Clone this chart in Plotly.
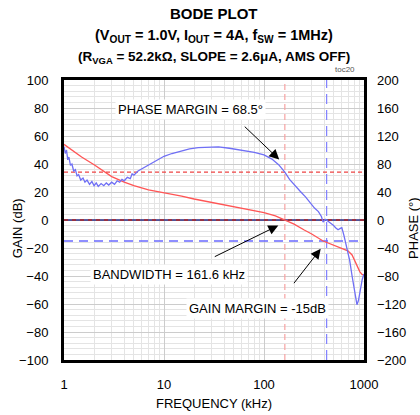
import numpy as np
import plotly.graph_objects as go

# Loop gain (dB) vs frequency (kHz)
gain_freq = [1, 1.2, 1.5, 2, 2.5, 3, 4, 5, 7, 10, 15, 20, 30, 45, 70, 100, 130,
             161.6, 200, 250, 300, 390, 480, 575, 690, 760, 820, 910, 960, 1000]
gain_db = [54, 50, 45, 39.5, 34.5, 31, 27, 24.5, 21.5, 19.5, 17, 15, 12.5, 10.2, 7.2, 5.2, 3,
           0, -3, -7, -10, -15, -17.5, -19.5, -22, -25, -30, -37, -39, -39]

# Loop phase (deg) vs frequency (kHz)
phase_freq = [1.0, 1.03, 1.06, 1.09, 1.12, 1.16, 1.2, 1.25, 1.3, 1.35, 1.4, 1.47, 1.55, 1.62,
              1.7, 1.8, 1.9, 2.0, 2.1, 2.2, 2.35, 2.5, 2.65, 2.8, 3.0, 3.2, 3.4, 3.6, 3.8,
              4.0, 4.3, 4.6, 4.8, 5.0, 5.5, 6.0, 7, 8, 9, 10, 12, 15, 18, 22, 28, 35, 45,
              60, 80, 100, 120, 140, 161.6, 180, 200, 230, 260, 290, 320, 350, 375, 390,
              400, 410, 430, 460, 490, 520, 550, 580, 600, 630, 670, 720, 760, 800, 850,
              880, 920, 960, 1000]
phase_deg = [105, 95, 100, 86, 90, 78, 80, 70, 72, 63, 65, 57, 60, 54,
             57, 51, 55, 49, 53, 48, 52, 49, 53, 50, 54, 51, 56, 54, 58,
             56, 61, 59, 66, 64, 70, 73, 79, 84, 88, 91, 95, 99, 101.5, 103.5, 104.5, 104.5, 102.5,
             100, 96.5, 93, 87, 79, 68.5, 58, 50, 41, 33, 24, 17, 12, 5, -3,
             -1, 1, -1, -4, -7, -11, -14, -12, -11, -22, -40, -58, -80, -100, -121,
             -115, -98, -85, -77]

# Stability markers
bandwidth_khz = 161.6
phase_margin_deg = 68.5
gain_margin_db = -15
phase_cross_khz = 423

x_ticks = [1, 10, 100, 1000]
gain_ticks = list(range(-100, 101, 20))
phase_ticks = list(range(-200, 201, 40))

RED = "#ff5555"
BLUE = "#6f6ff5"
f_lo, f_hi = 1, 1000

fig = go.Figure()

# marker lines
fig.add_trace(go.Scatter(x=[bandwidth_khz, bandwidth_khz], y=[-100, 100], mode="lines",
                         line=dict(color="#f6a2a2", width=1.2, dash="6px,4px"), hoverinfo="skip"))
fig.add_trace(go.Scatter(x=[phase_cross_khz, phase_cross_khz], y=[-100, 100], mode="lines",
                         line=dict(color="#8080ff", width=1.2, dash="10px,6px"), hoverinfo="skip"))
fig.add_trace(go.Scatter(x=[f_lo, f_hi], y=[gain_margin_db, gain_margin_db], mode="lines",
                         line=dict(color="#6a6aff", width=1.3, dash="9px,6px"), hoverinfo="skip"))
fig.add_trace(go.Scatter(x=[f_lo, f_hi], y=[phase_margin_deg, phase_margin_deg], mode="lines",
                         yaxis="y2", line=dict(color="#ee4444", width=1.2, dash="4px,3px"),
                         hoverinfo="skip"))
# zero line (gain 0 dB / phase 0 deg)
fig.add_trace(go.Scatter(x=[f_lo, f_hi], y=[0, 0], mode="lines",
                         line=dict(color="#2a2a80", width=1.3), hoverinfo="skip"))
fig.add_trace(go.Scatter(x=[f_lo, f_hi], y=[0, 0], mode="lines",
                         line=dict(color="#b02828", width=1.3, dash="4px,4px"), hoverinfo="skip"))

# curves
fig.add_trace(go.Scatter(x=phase_freq, y=phase_deg, mode="lines", yaxis="y2",
                         line=dict(color=BLUE, width=1.3), name="Phase"))
fig.add_trace(go.Scatter(x=gain_freq, y=gain_db, mode="lines",
                         line=dict(color=RED, width=1.3), name="Gain"))

lg = np.log10

def label(text, f, y):
    return dict(x=lg(f), y=y, xref="x", yref="y", text=text, showarrow=False,
                xanchor="center", yanchor="middle",
                bgcolor="white", borderpad=2, font=dict(size=13))

def arrow(f_head, y_head, f_tail, y_tail):
    return dict(x=lg(f_head), y=y_head, ax=lg(f_tail), ay=y_tail, xref="x", yref="y",
                axref="x", ayref="y", text="", showarrow=True, arrowhead=2,
                arrowsize=2, arrowwidth=1, arrowcolor="black")

def paper_text(text, x, y, size=13, angle=0, color="black"):
    return dict(x=x, y=y, xref="paper", yref="paper", showarrow=False, text=text,
                xanchor="center", yanchor="middle", textangle=angle,
                font=dict(size=size, color=color))

annotations = [
    label("PHASE MARGIN = 68.5°", 18.2, 79),
    label("BANDWIDTH = 161.6 kHz", 11.2, -38.6),
    label("GAIN MARGIN = -15dB", 87, -63),
    arrow(142, 43.2, 62, 67.7),
    arrow(139, -3.9, 31.1, -26.7),
    arrow(369, -20.6, 194, -46.2),
    paper_text("<b>BODE PLOT</b>", 0.5, 1.236, size=15),
    paper_text("<b>(V<sub>OUT</sub> = 1.0V, I<sub>OUT</sub> = 4A, f<sub>SW</sub> = 1MHz)</b>",
               0.5, 1.157, size=14.5),
    paper_text("<b>(R<sub>VGA</sub> = 52.2kΩ, SLOPE = 2.6μA, AMS OFF)</b>",
               0.5, 1.08, size=13.5),
    paper_text("toc20", 0.937, 1.036, size=8, color="#555555"),
    paper_text("GAIN (dB)", -0.157, 0.47, angle=-90),
    paper_text("PHASE (°)", 1.165, 0.47, angle=-90),
    paper_text("FREQUENCY (kHz)", 0.5, -0.154),
]

minor_x = [m * d for d in (1, 10, 100) for m in range(2, 10)]

fig.update_layout(
    width=420, height=415,
    margin=dict(l=64, r=56, t=80, b=55),
    paper_bgcolor="white", plot_bgcolor="white",
    showlegend=False,
    font=dict(family="Arial, Liberation Sans, sans-serif", size=13, color="black"),
    xaxis=dict(type="log", range=[0, 3], tickmode="array", tickvals=x_ticks,
               ticktext=[str(v) for v in x_ticks], ticks="", ticklabelstandoff=10,
               showgrid=True, gridcolor="#cccccc", gridwidth=1,
               minor=dict(tickmode="array", tickvals=minor_x, showgrid=True,
                          gridcolor="#e4e4e4", gridwidth=1),
               showline=True, linecolor="black", linewidth=3, mirror=True, zeroline=False),
    yaxis=dict(range=[-100, 100], tickmode="array", tickvals=gain_ticks, ticks="",
               ticklabelstandoff=10, showgrid=True, gridcolor="#cccccc",
               minor=dict(dtick=4, showgrid=True, gridcolor="#e4e4e4"),
               showline=True, linecolor="black", linewidth=3, mirror=True, zeroline=False),
    yaxis2=dict(range=[-200, 200], tickmode="array", tickvals=phase_ticks, ticks="",
                ticklabelstandoff=12, overlaying="y", side="right", showgrid=False,
                zeroline=False, showline=False),
    annotations=annotations,
)

fig.write_html("out.html")
